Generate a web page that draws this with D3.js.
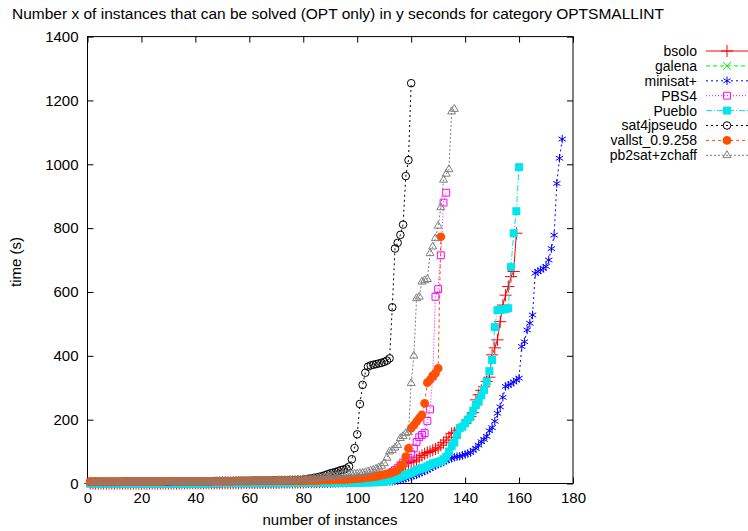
<!DOCTYPE html>
<html>
<head>
<meta charset="utf-8">
<script src="https://cdn.jsdelivr.net/npm/d3@7"></script>
<style>
body { margin: 0; background: #fff; }
text { font-family: "Liberation Sans", Arial, sans-serif; }
</style>
</head>
<body>
<div id="chart"></div>
<script>
var w = 748;
var h = 531;

// time (s) for the k-th solved instance, k = 1..n
var bsolo = [
  0,0,0,0,0,0,0,0,0,0, 0,0,0,0,0,0,0,0,0,0, 0,0,0,0,0,0,0,0,0,0,
  0,0,0,0,1,1,1,1,1,1, 1,1,1,1,1,1,1,1,1,1, 1,1,1,1,1,1,1,2,2,2,
  2,2,2,2,2,2,2,2,2,2, 2,3,3,3,3,3,3,3,3,3, 4,4,4,4,4,4,5,5,5,5,
  6,6,6,7,7,7,8,8,9,9, 10,11,12,13,14,15,16,17,19,21, 24,27,30,35,40,45,55,63,65,67,
  70,74,82,88,93,97,100,104,108,112, 120,128,136,145,157,159,165,170,183,188,
  199,210,222,262,278,292,303,320,333,403, 425,450,507,559,590,617,648,664,784
];
var galena = [];
var minisat = [
  0,0,0,0,0,0,0,0,0,0, 0,0,0,0,0,0,0,0,0,0, 0,0,0,0,0,0,0,0,0,0,
  0,0,0,0,0,1,1,1,1,1, 1,1,1,1,1,1,1,1,1,1, 1,1,1,1,1,1,1,1,1,1,
  1,1,1,1,1,1,1,1,2,2, 2,2,2,2,2,2,2,2,2,2, 2,2,2,2,2,2,3,3,3,3,
  3,3,3,3,3,3,3,3,4,4, 4,4,4,4,4,5,5,5,5,6, 6,7,7,8,9,11,13,16,19,22,
  25,27,31,35,39,42,47,52,56,60, 64,68,72,76,79,82,84,85,88,91,
  94,97,104,110,120,131,138,148,165,175, 195,220,240,270,304,308,312,318,324,330,
  429,444,481,502,528,659,664,669,674,680, 700,736,778,940,1019,1079
];
var pbs4 = [
  0,0,0,0,0,0,0,0,0,0, 0,0,0,0,0,0,0,0,0,0, 0,0,0,0,0,0,0,0,0,0,
  0,0,0,0,0,0,0,0,0,0, 0,0,0,0,0,0,0,0,0,1, 1,1,1,1,1,1,1,1,1,1,
  1,1,1,1,1,1,1,1,1,1, 1,1,1,1,2,2,2,2,2,2, 2,2,2,3,3,3,3,3,4,4,
  4,4,5,5,5,6,6,7,7,8, 8,9,10,11,12,13,14,16,18,20, 25,30,36,42,48,57,65,72,80,92,
  110,130,145,152,158,196,232,335,585,609, 715,880,911
];
var pueblo = [
  0,0,0,0,0,0,0,0,0,0, 0,0,0,0,0,0,0,0,0,0, 0,0,0,0,0,0,0,0,0,0,
  0,0,0,0,0,0,0,0,0,0, 0,0,0,0,0,1,1,1,1,1, 1,1,1,1,1,1,1,1,1,1,
  1,1,1,1,1,1,1,1,1,1, 1,1,1,1,1,1,2,2,2,2, 2,2,2,2,2,2,2,2,2,2,
  2,2,2,3,3,3,3,3,3,3, 3,3,4,4,4,4,4,5,5,6, 8,10,12,15,18,21,24,27,30,33,
  37,41,45,48,50,54,58,63,65,67, 70,76,84,100,117,128,152,173,178,189,
  200,209,228,246,256,276,293,319,352,387, 490,543,544,545,547,549,678,784,853,991
];
var sat4j = [
  5,5,5,5,5,5,5,5,5,5, 5,5,6,6,6,6,6,6,6,6, 6,6,6,6,6,6,6,6,6,6,
  7,7,7,7,7,7,7,7,7,7, 7,7,7,7,7,7,8,8,8,8, 8,8,8,8,8,8,8,8,8,8,
  9,9,9,9,9,9,9,9,10,10, 10,10,10,10,10,10,11,11,11,12, 13,15,16,18,19,21,23,26,29,32,
  34,36,39,42,44,47,53,76,111,154, 249,309,347,366,370,372,374,376,378,381,
  385,392,552,736,754,779,811,963,1013,1254
];
var vallst = [
  6,6,6,6,6,6,6,6,6,6, 6,6,6,6,6,6,6,6,6,6, 6,6,6,6,6,6,6,6,7,7,
  7,7,7,7,7,7,7,7,7,7, 7,7,7,7,7,7,7,7,7,7, 7,7,7,7,8,8,8,8,8,8,
  8,8,8,8,8,8,8,8,8,8, 9,9,9,9,9,9,9,9,9,9, 10,10,10,10,10,10,11,11,11,11,
  12,12,12,13,13,13,14,14,15,15, 16,17,18,19,20,21,22,24,26,28, 30,32,35,38,42,55,60,84,110,173,
  183,194,205,215,251,316,325,337,345,361, 773
];
var pb2sat = [
  4,4,4,4,4,4,4,4,4,4, 4,4,4,4,5,5,5,5,5,5, 5,5,5,5,5,5,5,5,5,5,
  5,5,6,6,6,6,6,6,6,6, 6,6,6,6,6,6,6,6,7,7, 7,7,7,7,7,7,7,7,8,8,
  8,8,8,8,8,9,9,9,9,9, 10,10,10,10,11,11,11,12,12,13, 13,14,14,15,16,17,18,19,20,21,
  22,23,24,25,26,27,28,29,30,31, 32,33,35,37,40,43,46,50,55,63, 80,100,104,112,120,142,148,157,160,314,
  400,580,585,632,636,640,721,742,768,807, 865,951,970,984,1165,1173
];

var names = ["bsolo", "galena", "minisat+", "PBS4", "Pueblo", "sat4jpseudo", "vallst_0.9.258", "pb2sat+zchaff"];
var xTicks = [0, 20, 40, 60, 80, 100, 120, 140, 160, 180];
var yTicks = [0, 200, 400, 600, 800, 1000, 1200, 1400];

// styling per series (gnuplot-like)
var styles = [
  {color: "#ff0000", dash: null,    sym: d3.symbolPlus,      size: 50, fill: false},
  {color: "#00ee00", dash: "4,3",   sym: d3.symbolTimes,     size: 40, fill: false},
  {color: "#0000ff", dash: "2,3",   sym: d3.symbolAsterisk,  size: 50, fill: false},
  {color: "#ff00ff", dash: "1,2",   sym: d3.symbolSquare2,   size: 60, fill: false},
  {color: "#00e5ee", dash: "6,2,1,2", sym: d3.symbolSquare,  size: 64, fill: true},
  {color: "#000000", dash: "2,3",   sym: d3.symbolCircle,    size: 45, fill: false},
  {color: "#ff5000", dash: "3,3",   sym: d3.symbolCircle,    size: 60, fill: true},
  {color: "#808080", dash: "2,2",   sym: d3.symbolTriangle2, size: 45, fill: false}
];
var datasets = [bsolo, galena, minisat, pbs4, pueblo, sat4j, vallst, pb2sat];

var svg = d3.select("#chart")
            .append("svg")
            .attr("width", w)
            .attr("height", h);

var xScale = d3.scaleLinear().domain([0, 180]).range([87.5, 573]);
var yScale = d3.scaleLinear().domain([0, 1400]).range([483.5, 36.6]);

// AXES (ticks point inward, mirrored on top/right)
svg.append("g")
    .attr("transform", "translate(0," + yScale(0) + ")")
    .call(d3.axisBottom(xScale).tickValues(xTicks).tickSize(-6).tickPadding(9).tickFormat(d3.format("d")))
    .attr("class", "axis");
svg.append("g")
    .attr("transform", "translate(" + xScale(0) + ",0)")
    .call(d3.axisLeft(yScale).tickValues(yTicks).tickSize(-6).tickPadding(9).tickFormat(d3.format("d")))
    .attr("class", "axis");
svg.append("g")
    .attr("transform", "translate(0," + yScale(1400) + ")")
    .call(d3.axisTop(xScale).tickValues(xTicks).tickSize(-6).tickFormat(""));
svg.append("g")
    .attr("transform", "translate(" + xScale(180) + ",0)")
    .call(d3.axisRight(yScale).tickValues(yTicks).tickSize(-6).tickFormat(""));
svg.selectAll(".domain").remove();
svg.selectAll(".tick line").attr("stroke", "#000");
svg.selectAll(".axis text").attr("font-size", 15).attr("fill", "#000")
    .style("font-family", "'Liberation Sans', Arial, sans-serif");

svg.append("rect")
    .attr("x", xScale(0)).attr("y", yScale(1400))
    .attr("width", xScale(180) - xScale(0)).attr("height", yScale(0) - yScale(1400))
    .attr("fill", "none").attr("stroke", "#000").attr("stroke-width", 1);

// SERIES
var line = d3.line()
    .x(function(d, i) { return xScale(i + 1); })
    .y(function(d) { return yScale(d); });

datasets.forEach(function(vals, k) {
    var st = styles[k];
    var g = svg.append("g");
    g.append("path")
        .datum(vals)
        .attr("d", line)
        .attr("fill", "none")
        .attr("stroke", st.color)
        .attr("stroke-width", 1)
        .attr("stroke-dasharray", st.dash);
    g.selectAll("path.pt")
        .data(vals)
        .enter()
        .append("path")
        .attr("class", "pt")
        .attr("transform", function(d, i) { return "translate(" + xScale(i + 1) + "," + yScale(d) + ")"; })
        .attr("d", d3.symbol().type(st.sym).size(st.size))
        .attr("fill", st.fill ? st.color : "none")
        .attr("stroke", st.fill ? "none" : st.color)
        .attr("stroke-width", 1);
});

// LEGEND
var legend = svg.append("g");
names.forEach(function(n, k) {
    var st = styles[k];
    var y = 51 + k * 14.9;
    legend.append("text")
        .attr("x", 697).attr("y", y).attr("dy", "0.35em")
        .attr("text-anchor", "end").attr("font-size", 14).text(n);
    legend.append("line")
        .attr("x1", 706).attr("x2", 748).attr("y1", y).attr("y2", y)
        .attr("stroke", st.color).attr("stroke-dasharray", st.dash);
    legend.append("path")
        .attr("transform", "translate(727," + y + ")")
        .attr("d", d3.symbol().type(st.sym).size(st.size))
        .attr("fill", st.fill ? st.color : "none")
        .attr("stroke", st.fill ? "none" : st.color);
});

// TITLES
svg.append("text")
    .attr("x", 12).attr("y", 19)
    .attr("font-size", 15.5)
    .text("Number x of instances that can be solved (OPT only) in y seconds for category OPTSMALLINT");
svg.append("text")
    .attr("x", 330).attr("y", 525)
    .attr("text-anchor", "middle").attr("font-size", 15)
    .text("number of instances");
svg.append("text")
    .attr("transform", "translate(21,262) rotate(-90)")
    .attr("text-anchor", "middle").attr("font-size", 15)
    .text("time (s)");
</script>
</body>
</html>
